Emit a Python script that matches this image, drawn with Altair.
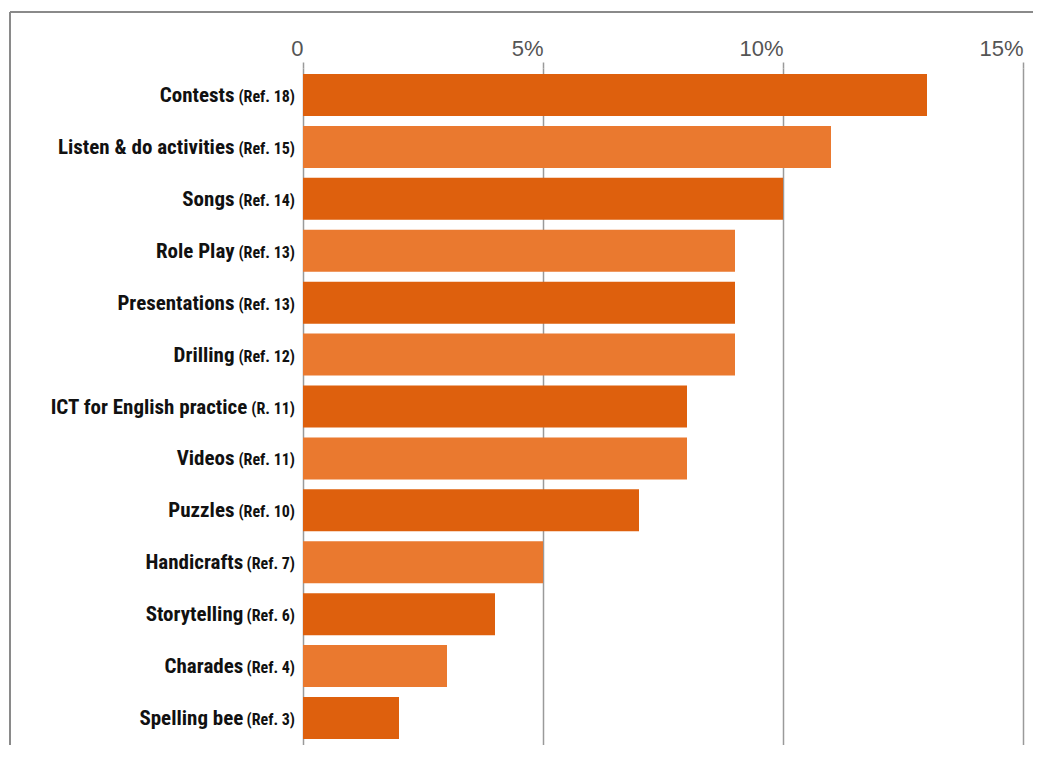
import altair as alt
import pandas as pd

names = ["Contests", "Listen & do activities", "Songs", "Role Play", "Presentations",
         "Drilling", "ICT for English practice", "Videos", "Puzzles", "Handicrafts",
         "Storytelling", "Charades", "Spelling bee"]
refs = ["(Ref. 18)", "(Ref. 15)", "(Ref. 14)", "(Ref. 13)", "(Ref. 13)", "(Ref. 12)",
        "(R. 11)", "(Ref. 11)", "(Ref. 10)", "(Ref. 7)", "(Ref. 6)", "(Ref. 4)", "(Ref. 3)"]
percent = [13, 11, 10, 9, 9, 9, 8, 8, 7, 5, 4, 3, 2]
tick_values = [0, 5, 10, 15]

# approximate glyph advances (px) of the 16px bold condensed font, used to place the
# larger name text just left of the smaller "(Ref. n)" text
GLYPH_W = {"(": 5.0, ")": 5.0, "R": 9.3, "e": 7.8, "f": 5.0, ".": 4.0, " ": 3.8}


def text_w(s):
    return sum(GLYPH_W.get(c, 8.8) for c in s)


df = pd.DataFrame({"name": names, "ref": refs, "pct": percent})
df["shade"] = ["dark" if i % 2 == 0 else "light" for i in range(len(names))]
df["nx"] = [-8 - 3 - text_w(r) for r in refs]

NAME_FONT = "Liberation Sans Narrow, Roboto Condensed, DejaVu Sans Condensed, Roboto"

y_enc = alt.Y("name:N", sort=names, axis=None,
              scale=alt.Scale(paddingInner=0.19, paddingOuter=0.115))

bars = alt.Chart(df).mark_bar().encode(
    x=alt.X("pct:Q", scale=alt.Scale(domain=[0, 15], nice=False),
            axis=alt.Axis(orient="top", values=tick_values, title=None,
                          labelExpr="datum.value == 0 ? '0' : datum.value + '%'",
                          labelAlign="right", labelFontSize=22, labelColor="#555555",
                          labelFont="Liberation Sans", labelPadding=2,
                          domain=False, ticks=True, tickSize=6, tickColor="#9a9a9a",
                          tickWidth=1.5, grid=True, gridColor="#9a9a9a", gridWidth=1.5)),
    y=y_enc,
    color=alt.Color("shade:N", legend=None,
                    scale=alt.Scale(domain=["dark", "light"], range=["#DE600D", "#EA792F"])),
)

ref_text = alt.Chart(df).mark_text(
    align="right", baseline="alphabetic", dy=7, font=NAME_FONT, fontSize=16,
    fontWeight="bold", color="#111111"
).encode(x=alt.value(-8), y=y_enc, text="ref:N")

name_text = alt.Chart(df).mark_text(
    align="right", baseline="alphabetic", dy=7, font=NAME_FONT, fontSize=21,
    fontWeight="bold", color="#111111"
).encode(x=alt.X("nx:Q", scale=None), y=y_enc, text="name:N")

frame_left = alt.Chart(df).mark_rule(color="#8a8a8a", strokeWidth=2).encode(
    x=alt.value(-293), y=alt.value(-56), y2=alt.value(680))
frame_top = alt.Chart(df).mark_rule(color="#8a8a8a", strokeWidth=2).encode(
    x=alt.value(-293), x2=alt.value(740), y=alt.value(-56))

chart = alt.layer(bars, ref_text, name_text, frame_left, frame_top).properties(
    width=720, height=677,
    autosize=alt.AutoSizeParams(type="none"),
    padding={"left": 295, "top": 60, "right": 10, "bottom": 0},
).configure_view(stroke=None)

chart.save("out.html", embed_options={"renderer": "svg", "actions": False})
